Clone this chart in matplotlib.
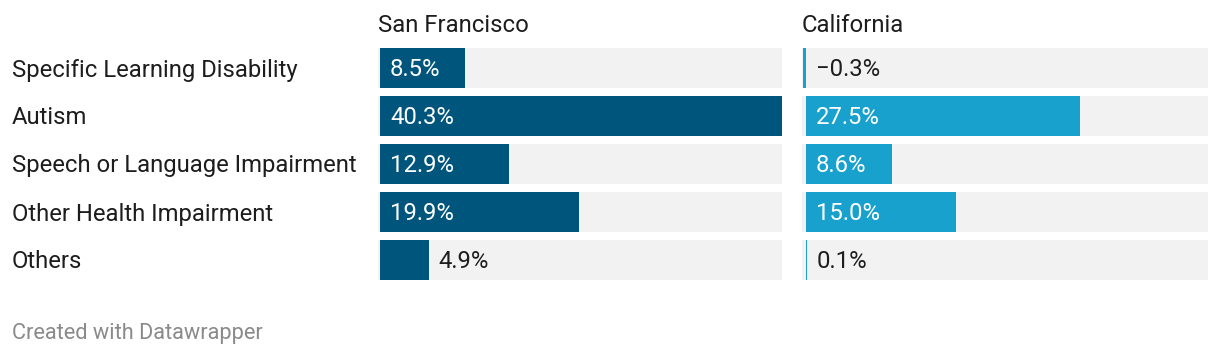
import matplotlib
matplotlib.use("Agg")
import matplotlib.pyplot as plt

plt.rcParams['font.family'] = ['Roboto', 'DejaVu Sans']

categories = ["Specific Learning Disability", "Autism", "Speech or Language Impairment",
              "Other Health Impairment", "Others"]
san_francisco = [8.5, 40.3, 12.9, 19.9, 4.9]
california = [-0.3, 27.5, 8.6, 15.0, 0.1]
panel_titles = ["San Francisco", "California"]

W, H = 1220, 356
fig = plt.figure(figsize=(W / 100, H / 100), dpi=100)

xmax = 40.3
bar_h = 40 / 48
text_c = "#1d1d1d"
fs = 17.2
dy = 2.0  # small downward nudge for text, px


def px_axes(x0, x1, y0, y1):
    # pixel box (top-left origin) -> figure axes
    return fig.add_axes([x0 / W, 1 - y1 / H, (x1 - x0) / W, (y1 - y0) / H])


panels = [
    (san_francisco, "#00557d", 378, 782, -0.2),
    (california, "#18a1cd", 802, 1208, -0.4),
]

for (vals, col, x0, x1, left), title in zip(panels, panel_titles):
    ax = px_axes(x0, x1, 48, 280)
    ax.set_xlim(left, xmax)
    ax.set_ylim(len(vals) - 1 + bar_h / 2, -bar_h / 2)
    ys = range(len(vals))
    ax.barh(ys, [xmax - left] * len(vals), left=left, height=bar_h, color="#f2f2f2", lw=0)
    ax.barh(ys, vals, height=bar_h, color=col, lw=0)
    ax.axis("off")
    for y, v in zip(ys, vals):
        lab = f"{v:.1f}%".replace("-", "\u2212")
        yy = y + dy / 48
        if v > 7:
            ax.text(1.0, yy, lab, color="white", fontsize=fs, va="center", ha="left")
        else:
            ax.text(max(v, 0) + 1.0, yy, lab, color=text_c, fontsize=fs, va="center", ha="left")
    fig.text(x0 / W, 1 - (24 + dy) / H, title, fontsize=fs, color=text_c, va="center", ha="left")

for i, c in enumerate(categories):
    fig.text(12 / W, 1 - (68 + dy + 48 * i) / H, c, fontsize=fs, color=text_c,
             va="center", ha="left")

fig.text(12 / W, 1 - (332 + dy) / H, "Created with Datawrapper", fontsize=15.7, color="#8a8a8a",
         va="center", ha="left")

fig.savefig("out.png", dpi=100)
